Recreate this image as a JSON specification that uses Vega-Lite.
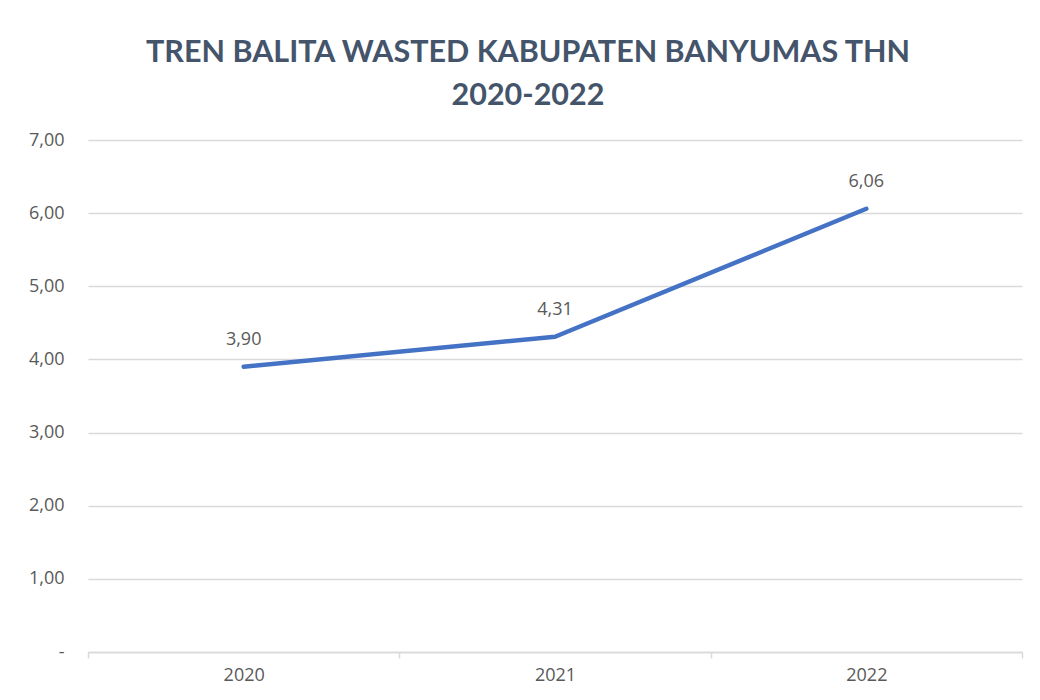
{
  "$schema": "https://vega.github.io/schema/vega-lite/v6.json",
  "width": 934,
  "height": 512,
  "autosize": {"type": "none"},
  "padding": {"left": 88, "top": 140, "right": 18, "bottom": 48},
  "background": "white",
  "config": {
    "locale": {"number": {"decimal": ",", "thousands": ".", "grouping": [3], "currency": ["Rp", ""]}},
    "view": {"stroke": null},
    "font": "Open Sans"
  },
  "title": {
    "text": ["TREN BALITA WASTED KABUPATEN BANYUMAS THN", "2020-2022"],
    "font": "Lato",
    "fontSize": 30.5,
    "fontWeight": "bold",
    "color": "#44546A",
    "anchor": "middle",
    "frame": "group",
    "dx": -27,
    "offset": 20,
    "lineHeight": 43
  },
  "data": {
    "values": [
      {"year": 2020, "value": 3.90},
      {"year": 2021, "value": 4.31},
      {"year": 2022, "value": 6.06}
    ]
  },
  "encoding": {
    "x": {
      "field": "year",
      "type": "quantitative",
      "scale": {"domain": [2019.5, 2022.5], "nice": false, "zero": false},
      "axis": {
        "title": null,
        "values": [2019.5, 2020, 2020.5, 2021, 2021.5, 2022, 2022.5],
        "labelExpr": "datum.value % 1 == 0 ? format(datum.value, 'd') : ''",
        "labelOverlap": false,
        "labelFontSize": 18,
        "labelColor": "#595959",
        "labelPadding": 8,
        "labelFont": "Open Sans",
        "grid": false,
        "domainColor": "#D9D9D9",
        "domainWidth": 1.5,
        "tickColor": "#D9D9D9",
        "tickWidth": 1.5,
        "tickSize": 6,
        "tickOpacity": {"condition": {"test": "datum.value % 1 == 0", "value": 0}, "value": 1}
      }
    },
    "y": {
      "field": "value",
      "type": "quantitative",
      "scale": {"domain": [0, 7], "nice": false},
      "axis": {
        "title": null,
        "values": [0, 1, 2, 3, 4, 5, 6, 7],
        "format": ".2f",
        "labelExpr": "datum.value == 0 ? '-' : datum.label",
        "labelFontSize": 18,
        "labelColor": "#595959",
        "labelPadding": 24,
        "labelFont": "Open Sans",
        "domain": false,
        "ticks": false,
        "gridColor": "#D9D9D9",
        "gridWidth": 1.5
      }
    }
  },
  "layer": [
    {
      "mark": {"type": "line", "color": "#4472C4", "strokeWidth": 4.5, "strokeCap": "round", "strokeJoin": "round"}
    },
    {
      "mark": {"type": "text", "dy": -27, "fontSize": 18, "color": "#595959", "font": "Open Sans"},
      "encoding": {
        "text": {"field": "value", "type": "quantitative", "format": ".2f"}
      }
    }
  ]
}
